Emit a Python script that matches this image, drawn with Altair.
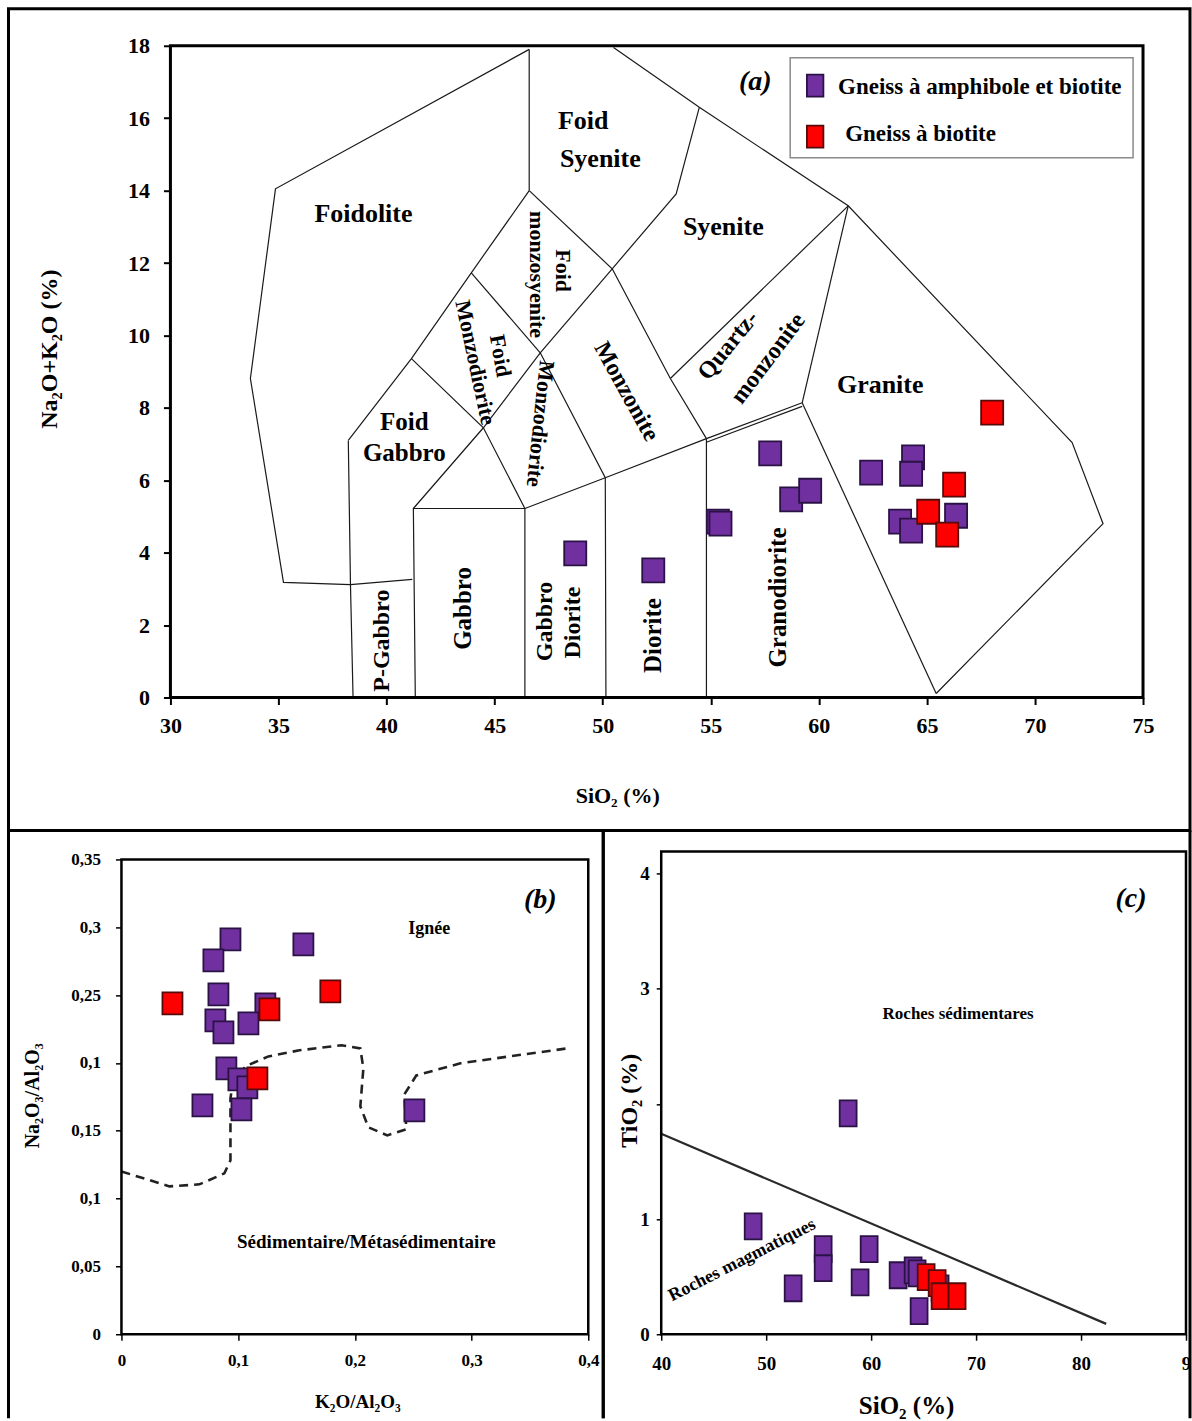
import json
import altair as alt
import pandas as pd

SERIF = "Liberation Serif"

# ---------------------------------------------------------------- series
GROUPS = ["Gneiss à amphibole et biotite", "Gneiss à biotite"]
GROUP_FILL = ["#7030A0", "#FF0000"]
GROUP_EDGE = ["#2B1245", "#560B0B"]

# (a) SiO2 vs Na2O+K2O (TAS)
TAS_AMPH_SIO2 = [48.73, 52.34, 55.33, 55.45, 57.75, 58.72, 59.60, 62.42, 64.36, 64.27, 63.76, 64.27, 66.35]
TAS_AMPH_ALK = [3.98, 3.51, 4.86, 4.80, 6.74, 5.47, 5.71, 6.21, 6.63, 6.18, 4.86, 4.61, 5.02]
TAS_BIOT_SIO2 = [68.02, 66.26, 65.06, 65.94]
TAS_BIOT_ALK = [7.87, 5.88, 5.13, 4.50]
TAS_X_TICKS = [30, 35, 40, 45, 50, 55, 60, 65, 70, 75]
TAS_Y_TICKS = [0, 2, 4, 6, 8, 10, 12, 14, 16, 18]

# field boundaries of the plutonic TAS grid (SiO2, Na2O+K2O)
TAS_BOUNDARIES = [
    [(46.6, 17.9), (34.86, 14.05), (33.70, 8.81), (35.23, 3.18), (38.33, 3.12), (41.19, 3.26)],
    [(46.6, 17.9), (46.6, 14.0)],
    [(46.6, 14.0), (43.92, 11.73), (41.15, 9.36), (38.23, 7.10)],
    [(38.23, 7.10), (38.33, 3.12), (38.45, 0.0)],
    [(41.33, 0.0), (41.24, 5.22), (46.4, 5.22), (46.4, 0.0)],
    [(41.24, 5.22), (44.48, 7.45), (47.11, 9.52), (50.44, 11.84)],
    [(41.15, 9.36), (44.48, 7.45), (46.4, 5.22)],
    [(43.92, 11.73), (47.11, 9.52)],
    [(46.6, 14.0), (50.44, 11.84)],
    [(47.11, 9.52), (50.12, 6.07), (50.15, 0.0)],
    [(46.4, 5.22), (50.12, 6.07), (54.8, 7.15)],
    [(54.8, 7.15), (54.8, 0.0)],
    [(50.44, 11.84), (53.13, 8.81), (54.8, 7.15)],
    [(50.44, 11.84), (53.40, 13.91), (54.47, 16.3)],
    [(50.5, 17.95), (54.47, 16.3), (61.36, 13.58), (71.72, 7.04), (73.15, 4.80), (65.43, 0.11)],
    [(53.13, 8.81), (61.36, 13.58)],
    [(61.36, 13.58), (59.23, 8.14)],
    [(54.8, 7.15), (59.23, 8.14)],
    [(54.8, 7.05), (59.23, 8.04)],
    [(59.23, 8.14), (65.43, 0.11)],
]

# field names and where they sit (SiO2, Na2O+K2O)
TAS_FIELD_NAMES = ["Foidolite", "Foid", "Syenite", "Syenite", "Foid", "monzosyenite", "Foid",
                   "Monzodiorite", "Monzodiorite", "Monzonite", "Quartz-", "monzonite", "Granite",
                   "Foid", "Gabbro", "Gabbro", "P-Gabbro", "Gabbro", "Diorite", "Diorite", "Granodiorite"]
TAS_FIELD_SIO2 = [38.93, 49.10, 49.89, 55.58, 48.18, 46.97, 45.26, 44.11, 47.11, 51.09, 55.81, 57.66,
                  62.84, 40.82, 40.82, 43.55, 39.80, 47.34, 48.64, 52.34, 58.12]
TAS_FIELD_ALK = [13.36, 15.93, 14.88, 13.00, 11.79, 11.68, 9.44, 9.25, 7.56, 8.45, 9.72, 9.36,
                 8.64, 7.62, 6.76, 2.46, 1.57, 2.10, 2.07, 1.71, 2.76]
# text angle and font size of each field name
TAS_FIELD_ANGLE = [0, 0, 0, 0, 90, 90, 80, 78, 96, 61, 309, 307, 0, 0, 0, 270, 270, 270, 270, 270, 270]
TAS_FIELD_SIZE = [26, 26, 26, 26, 22, 22, 22, 22, 22, 24, 24, 24, 26, 25, 25, 25, 24, 24, 24, 25, 25]

# (b) K2O/Al2O3 vs Na2O/Al2O3
B_AMPH_K = [0.0934, 0.0788, 0.1559, 0.0831, 0.1233, 0.0805, 0.0874, 0.1088, 0.0899, 0.1002, 0.1079, 0.0694, 0.1028, 0.2510]
B_AMPH_NA = [0.2911, 0.2756, 0.2874, 0.2505, 0.2432, 0.2314, 0.2225, 0.2292, 0.1960, 0.1879, 0.1820, 0.1687, 0.1658, 0.1650]
B_BIOT_K = [0.0437, 0.1790, 0.1268, 0.1165]
B_BIOT_NA = [0.2439, 0.2527, 0.2395, 0.1886]
B_DIVIDE_K = [0.0, 0.0411, 0.0668, 0.0882, 0.0934, 0.0934, 0.0951, 0.1062, 0.1259, 0.1525, 0.1884,
              0.2047, 0.2073, 0.2047, 0.2116, 0.2278, 0.2441, 0.2424, 0.2527, 0.2904, 0.3392, 0.3820]
B_DIVIDE_NA = [0.1200, 0.1090, 0.1105, 0.1186, 0.1282, 0.1739, 0.1835, 0.1975, 0.2048, 0.2093, 0.2130,
               0.2107, 0.1960, 0.1680, 0.1525, 0.1466, 0.1511, 0.1768, 0.1908, 0.1997, 0.2056, 0.2107]
B_X_TICKS = [0, 0.1, 0.2, 0.3, 0.4]
B_X_LABELS = ["0", "0,1", "0,2", "0,3", "0,4"]
B_Y_TICKS = [0, 0.05, 0.1, 0.15, 0.2, 0.25, 0.3, 0.35]
B_Y_LABELS = ["0", "0,05", "0,1", "0,15", "0,1", "0,25", "0,3", "0,35"]

# (c) SiO2 vs TiO2
C_AMPH_SIO2 = [57.81, 48.76, 55.43, 55.43, 59.81, 52.57, 58.95, 62.57, 64.00, 64.38, 64.57, 66.57]
C_AMPH_TIO2 = [1.918, 0.937, 0.738, 0.573, 0.738, 0.399, 0.451, 0.512, 0.555, 0.529, 0.200, 0.399]
C_BIOT_SIO2 = [65.24, 66.29, 66.57, 68.19]
C_BIOT_TIO2 = [0.495, 0.443, 0.330, 0.330]
C_LINE_SIO2 = [40.0, 82.4]
C_LINE_TIO2 = [1.74, 0.09]
C_X_TICKS = [40, 50, 60, 70, 80, 90]
C_X_LABELS = ["40", "50", "60", "70", "80", "9"]
C_Y_TICKS = [0, 1, 2, 3, 4]
C_Y_LABELS = ["0", "1", "", "3", "4"]

# ---------------------------------------------------------------- helpers
FILL_SCALE = alt.Scale(domain=GROUPS, range=GROUP_FILL)
EDGE_SCALE = alt.Scale(domain=GROUPS, range=GROUP_EDGE)


def rect_path(half_width):
    w = half_width
    return f"M{-w},-1L{w},-1L{w},1L{-w},1Z"


def group_frame(xa, ya, xb, yb):
    rows = [{"x": x, "y": y, "group": GROUPS[0]} for x, y in zip(xa, ya)]
    rows += [{"x": x, "y": y, "group": GROUPS[1]} for x, y in zip(xb, yb)]
    df = pd.DataFrame(rows)
    df["k"] = range(len(df))
    return df


def polyline_frame(polys):
    rows = []
    for s, pts in enumerate(polys):
        for i, (x, y) in enumerate(pts):
            rows.append({"seg": s, "i": i, "x": x, "y": y})
    return pd.DataFrame(rows)


def tick_labels(ticks, labels):
    return f"{json.dumps(labels)}[indexof({json.dumps(ticks)}, datum.value)]"


AXIS_BASE = dict(domain=False, grid=False, ticks=True, tickColor="black", labelFont=SERIF,
                 labelFontWeight="bold", labelColor="black", labelOverlap=False, labelFlush=False,
                 titleFont=SERIF, titleFontWeight="bold", titleColor="black",
                 titleAlign="center", titleBaseline="middle")


def scatter(df, x, y, shape, size):
    return alt.Chart(df).mark_point(shape=shape, size=size, filled=True, opacity=1,
                                    strokeWidth=1.8).encode(
        x=x, y=y,
        fill=alt.Fill("group:N", scale=FILL_SCALE, legend=None),
        stroke=alt.Stroke("group:N", scale=EDGE_SCALE, legend=None),
        order=alt.Order("k:Q"),
    )


def box(x, y, x0, x1, y0, y1, width):
    df = pd.DataFrame({"x": [x0], "x2": [x1], "y": [y0], "y2": [y1]})
    return alt.Chart(df).mark_rect(filled=False, stroke="black", strokeWidth=width).encode(
        x=x, x2="x2:Q", y=y, y2="y2:Q")


def page_frame(x0, x1, y0, y1):
    """Closed panel border, in pixels relative to the plot origin."""
    return alt.Chart(pd.DataFrame({"k": [0]})).mark_rect(
        filled=False, stroke="black", strokeWidth=3).encode(
        x=alt.value(x0), x2=alt.value(x1), y=alt.value(y0), y2=alt.value(y1))


def open_frame(x0, x1, y0, y1):
    """Panel border running off the bottom of the page: top and both sides only."""
    one = pd.DataFrame({"k": [0]})
    rule = alt.Chart(one).mark_rule(color="black", strokeWidth=3)
    return alt.layer(
        rule.encode(x=alt.value(x0), x2=alt.value(x1), y=alt.value(y0)),
        rule.encode(x=alt.value(x0), y=alt.value(y0), y2=alt.value(y1)),
        rule.encode(x=alt.value(x1), y=alt.value(y0), y2=alt.value(y1)),
    )


def notes(df, x, y, italic=False, align="center"):
    return alt.Chart(df).mark_text(font=SERIF, fontWeight="bold", color="black", baseline="middle",
                                   align=align, fontStyle="italic" if italic else "normal").encode(
        x=x, y=y, text="label:N",
        angle=alt.Angle("angle:Q", scale=None),
        size=alt.Size("fs:Q", scale=None))


# ---------------------------------------------------------------- (a) TAS
A_PX_PER_UNIT = 973 / 45
A_XMIN = 30 - 49 / A_PX_PER_UNIT

a_x = alt.X("x:Q", scale=alt.Scale(domain=[A_XMIN, 75], nice=False, zero=False),
            axis=alt.Axis(values=TAS_X_TICKS, format="d", tickSize=7, tickWidth=2,
                          labelFontSize=22, labelPadding=11, title="SiO₂ (%)",
                          titleFontSize=22, titleX=496, titleY=98, **AXIS_BASE))
a_y = alt.Y("y:Q", scale=alt.Scale(domain=[0, 18], nice=False, zero=False),
            axis=alt.Axis(values=TAS_Y_TICKS, format="d", tickSize=7, tickWidth=2, offset=-49,
                          labelFontSize=22, labelPadding=14, title="Na₂O+K₂O (%)",
                          titleFontSize=24, titleAngle=270, titleX=-121, titleY=303, **AXIS_BASE))

tas_fields = pd.DataFrame({"label": TAS_FIELD_NAMES, "x": TAS_FIELD_SIO2, "y": TAS_FIELD_ALK,
                           "angle": TAS_FIELD_ANGLE, "fs": TAS_FIELD_SIZE})
tag_a = pd.DataFrame({"label": ["(a)"], "x": [57.06], "y": [17.0], "angle": [0], "fs": [28]})

legend_marks = pd.DataFrame({"x": [59.83, 59.83], "y": [16.90, 15.49], "group": GROUPS, "k": [0, 1]})
legend_text = pd.DataFrame({"label": GROUPS, "x": [60.89, 61.22], "y": [16.87, 15.55],
                            "angle": [0, 0], "fs": [23, 23]})
legend_frame = pd.DataFrame({"x": [58.675], "x2": [74.54], "y": [17.669], "y2": [14.908]})

panel_a = alt.layer(
    page_frame(-113, 1069, -37, 785),
    alt.Chart(polyline_frame(TAS_BOUNDARIES)).mark_line(color="#1a1a1a", strokeWidth=1.2).encode(
        x=a_x, y=a_y, detail="seg:N", order="i:Q"),
    notes(tas_fields, a_x, a_y),
    scatter(group_frame(TAS_AMPH_SIO2, TAS_AMPH_ALK, TAS_BIOT_SIO2, TAS_BIOT_ALK),
            a_x, a_y, rect_path(0.92), 576),
    alt.Chart(legend_frame).mark_rect(fill="white", stroke="#8a8a8a", strokeWidth=1.5).encode(
        x=a_x, x2="x2:Q", y=a_y, y2="y2:Q"),
    scatter(legend_marks, a_x, a_y, rect_path(0.75), 484),
    notes(legend_text, a_x, a_y, align="left"),
    notes(tag_a, a_x, a_y, italic=True),
    box(a_x, a_y, 30, 75, 0, 18, 3),
).properties(width=1022, height=652)

# ---------------------------------------------------------------- (b)
B_YMAX = 483 * 0.35 / 475

b_x = alt.X("x:Q", scale=alt.Scale(domain=[0, 0.4], nice=False, zero=False),
            axis=alt.Axis(values=B_X_TICKS, labelExpr=tick_labels(B_X_TICKS, B_X_LABELS),
                          tickSize=6, tickWidth=1.5, labelFontSize=17, labelPadding=12,
                          title="K₂O/Al₂O₃", titleFontSize=19, titleX=236, titleY=67, **AXIS_BASE))
b_y = alt.Y("y:Q", scale=alt.Scale(domain=[0, B_YMAX], nice=False, zero=False),
            axis=alt.Axis(values=B_Y_TICKS, labelExpr=tick_labels(B_Y_TICKS, B_Y_LABELS),
                          tickSize=6, tickWidth=1.5, labelFontSize=17, labelPadding=15,
                          title="Na₂O₃/Al₂O₃", titleFontSize=20, titleAngle=270,
                          titleX=-89, titleY=244, **AXIS_BASE))

b_notes = pd.DataFrame({"label": ["Ignée", "Sédimentaire/Métasédimentaire"],
                        "x": [0.2638, 0.2099], "y": [0.2984, 0.0678], "angle": [0, 0], "fs": [18, 19]})
tag_b = pd.DataFrame({"label": ["(b)"], "x": [0.3589], "y": [0.3198], "angle": [0], "fs": [28]})
divide_b = pd.DataFrame({"x": B_DIVIDE_K, "y": B_DIVIDE_NA, "i": range(len(B_DIVIDE_K))})

panel_b = alt.layer(
    open_frame(-113, 482, -21, 567),
    alt.Chart(divide_b).mark_line(color="#222222", strokeWidth=2.6, strokeDash=[9, 6]).encode(
        x=b_x, y=b_y, order="i:Q"),
    notes(b_notes, b_x, b_y),
    scatter(group_frame(B_AMPH_K, B_AMPH_NA, B_BIOT_K, B_BIOT_NA), b_x, b_y, rect_path(0.91), 484),
    notes(tag_b, b_x, b_y, italic=True),
    box(b_x, b_y, 0, 0.4, 0, 0.35, 2.5),
).properties(width=467, height=483)

# ---------------------------------------------------------------- (c)
C_YMAX = 483 * 4 / 461

c_x = alt.X("x:Q", scale=alt.Scale(domain=[40, 90], nice=False, zero=False),
            axis=alt.Axis(values=C_X_TICKS, labelExpr=tick_labels(C_X_TICKS, C_X_LABELS),
                          tickSize=6, tickWidth=1.5, labelFontSize=19, labelPadding=14,
                          title="SiO₂ (%)", titleFontSize=25, titleX=245, titleY=71, **AXIS_BASE))
c_y = alt.Y("y:Q", scale=alt.Scale(domain=[0, C_YMAX], nice=False, zero=False),
            axis=alt.Axis(values=C_Y_TICKS, labelExpr=tick_labels(C_Y_TICKS, C_Y_LABELS),
                          tickSize=5, tickWidth=1.5, labelFontSize=19, labelPadding=7,
                          title="TiO₂ (%)", titleFontSize=24, titleAngle=270,
                          titleX=-32, titleY=249, **AXIS_BASE))

c_notes = pd.DataFrame({"label": ["Roches sédimentares", "Roches magmatiques"],
                        "x": [68.29, 47.71], "y": [2.777, 0.642], "angle": [0, 333], "fs": [17, 18]})
tag_c = pd.DataFrame({"label": ["(c)"], "x": [84.76], "y": [3.774], "angle": [0], "fs": [28]})
line_c = pd.DataFrame({"x": C_LINE_SIO2, "y": C_LINE_TIO2, "i": [0, 1]})

panel_c = alt.layer(
    open_frame(-58, 529, -21, 567),
    alt.Chart(line_c).mark_line(color="#2a2a2a", strokeWidth=2.2).encode(x=c_x, y=c_y, order="i:Q"),
    notes(c_notes, c_x, c_y),
    scatter(group_frame(C_AMPH_SIO2, C_AMPH_TIO2, C_BIOT_SIO2, C_BIOT_TIO2), c_x, c_y,
            rect_path(0.65), 676),
    notes(tag_c, c_x, c_y, italic=True),
    box(c_x, c_y, 40, 90, 0, C_YMAX, 2.5),
).properties(width=525, height=483)

# ---------------------------------------------------------------- page
chart = alt.vconcat(
    panel_a,
    alt.hconcat(panel_b, panel_c, spacing=73, bounds="flush"),
    spacing=154, bounds="flush",
).properties(
    padding={"left": 6.5, "top": 6.5, "right": 0, "bottom": 0},
    background="white",
).configure_view(stroke=None)

chart.save("out.html", embed_options={"renderer": "svg", "actions": False})
